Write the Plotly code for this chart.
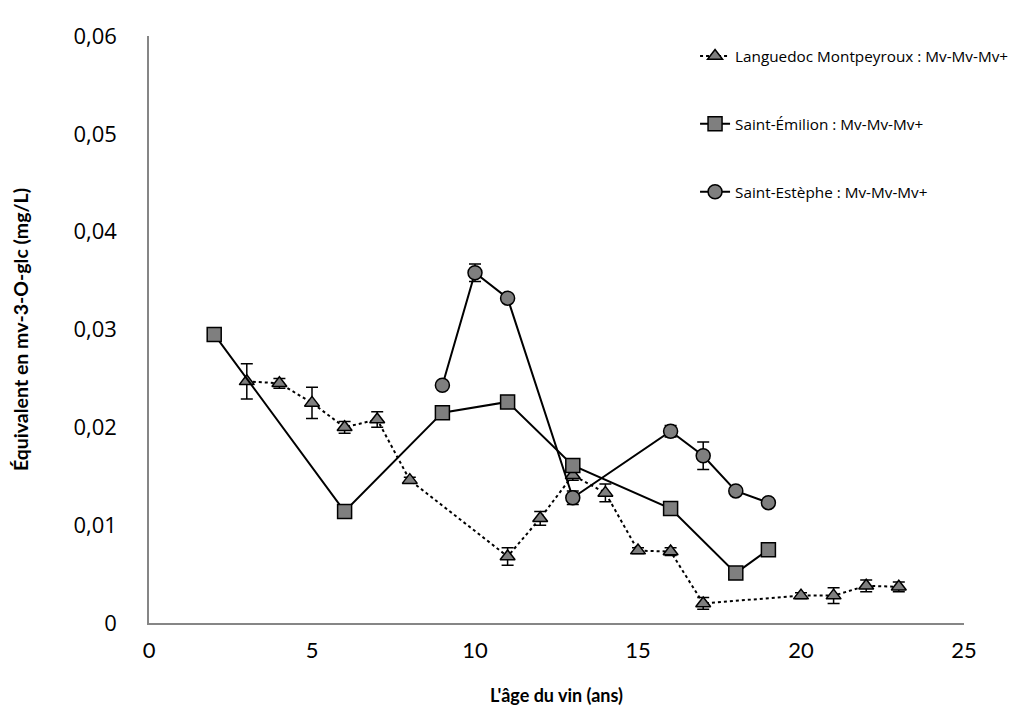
import plotly.graph_objects as go

# Languedoc Montpeyroux
lang_x = [3, 4, 5, 6, 7, 8, 11, 12, 13, 14, 15, 16, 17, 20, 21, 22, 23]
lang_y = [0.0247, 0.0245, 0.0225, 0.0200, 0.0208, 0.0146, 0.0068, 0.0107, 0.0151, 0.0133, 0.0074, 0.0073, 0.0020, 0.0028, 0.0028, 0.0038, 0.0037]
lang_err = [0.0018, 0.0005, 0.0016, 0.0006, 0.0008, 0.0003, 0.0009, 0.0007, 0.0005, 0.0009, 0.0003, 0.0004, 0.0006, 0.0003, 0.0008, 0.0006, 0.0005]

# Saint-Émilion
emil_x = [2, 6, 9, 11, 13, 16, 18, 19]
emil_y = [0.0295, 0.0114, 0.0215, 0.0226, 0.0161, 0.0117, 0.0051, 0.0075]
emil_err = [0.0002, 0.0002, 0.0002, 0.0002, 0.0002, 0.0002, 0.0002, 0.0002]

# Saint-Estèphe
este_x = [9, 10, 11, 13, 16, 17, 18, 19]
este_y = [0.0243, 0.0358, 0.0332, 0.0128, 0.0196, 0.0171, 0.0135, 0.0123]
este_err = [0.0002, 0.0009, 0.0002, 0.0007, 0.0006, 0.0014, 0.0002, 0.0002]

names = ["Languedoc Montpeyroux : Mv-Mv-Mv+", "Saint-Émilion : Mv-Mv-Mv+", "Saint-Estèphe : Mv-Mv-Mv+"]

x_ticks = [0, 5, 10, 15, 20, 25]
y_ticks = [0, 0.01, 0.02, 0.03, 0.04, 0.05, 0.06]
y_ticklabels = ["0", "0,01", "0,02", "0,03", "0,04", "0,05", "0,06"]

grey = "#7f7f7f"
err_style = dict(type="data", visible=True, color="black", thickness=1.5, width=6)

fig = go.Figure()
fig.add_trace(go.Scatter(
    x=lang_x, y=lang_y, name=names[0], mode="lines+markers", legendgroup="a",
    line=dict(color="black", width=2, dash="dot"),
    marker=dict(symbol="triangle-up", size=13, color=grey, line=dict(color="black", width=1.5)),
    error_y=dict(array=lang_err, **err_style),
))
fig.add_trace(go.Scatter(
    x=emil_x, y=emil_y, name=names[1], mode="lines+markers", legendgroup="b",
    line=dict(color="black", width=2),
    marker=dict(symbol="square", size=14, color=grey, line=dict(color="black", width=1.5)),
    error_y=dict(array=emil_err, **err_style),
))
fig.add_trace(go.Scatter(
    x=este_x, y=este_y, name=names[2], mode="lines+markers", legendgroup="c",
    line=dict(color="black", width=2),
    marker=dict(symbol="circle", size=14, color=grey, line=dict(color="black", width=1.5)),
    error_y=dict(array=este_err, **err_style),
))

fig.update_layout(
    width=1018, height=722,
    margin=dict(l=141, r=46, t=26, b=107),
    paper_bgcolor="white", plot_bgcolor="white",
    showlegend=True,
    legend=dict(x=0.670, y=0.994, xanchor="left", yanchor="top",
                font=dict(family="Open Sans", size=15.3, color="black"),
                traceorder="grouped", tracegroupgap=45, bgcolor="rgba(0,0,0,0)"),
    xaxis=dict(range=[0, 25], tickvals=x_ticks, showgrid=False, zeroline=False,
               showline=True, linecolor="#868686", linewidth=1.5, ticks="",
               ticklabelstandoff=7,
               tickfont=dict(family="Lato", size=22, color="black"),
               title=dict(text="<b>L'âge du vin (ans)</b>", font=dict(family="Lato", size=18, color="black"), standoff=27)),
    yaxis=dict(range=[0, 0.06], tickvals=y_ticks, ticktext=y_ticklabels, showgrid=False, zeroline=False,
               showline=True, linecolor="#868686", linewidth=1.5, ticks="",
               ticklabelstandoff=26,
               tickfont=dict(family="Open Sans", size=22, color="black"),
               title=dict(text="<b>Équivalent en mv-3-O-glc (mg/L)</b>", font=dict(family="Lato", size=19.5, color="black"), standoff=40)),
)

fig.write_html("out.html")
